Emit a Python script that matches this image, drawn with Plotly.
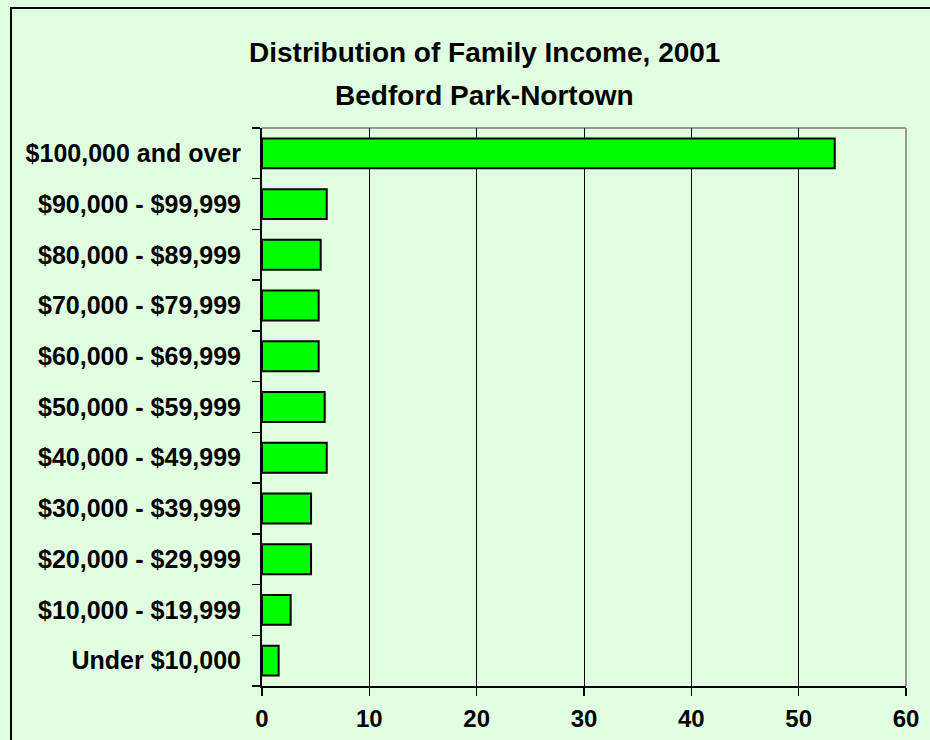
import plotly.graph_objects as go

categories = [
    "Under $10,000",
    "$10,000 - $19,999",
    "$20,000 - $29,999",
    "$30,000 - $39,999",
    "$40,000 - $49,999",
    "$50,000 - $59,999",
    "$60,000 - $69,999",
    "$70,000 - $79,999",
    "$80,000 - $89,999",
    "$90,000 - $99,999",
    "$100,000 and over",
]
values = [1.55, 2.67, 4.57, 4.57, 6.03, 5.84, 5.28, 5.28, 5.47, 6.03, 53.36]
x_ticks = [0, 10, 20, 30, 40, 50, 60]
title_lines = ["Distribution of Family Income, 2001", "Bedford Park-Nortown"]

W, H = 930, 740
ML, MR, MT, MB = 262, 24, 128, 54
PW, PH = W - ML - MR, H - MT - MB

def px_x(x):
    return (x - ML) / PW

def px_y(y):
    return (H - MB - y) / PH

FONT = "Liberation Sans, Arial, sans-serif"
BG = "#E0FFE0"

fig = go.Figure(
    go.Bar(
        x=values,
        y=categories,
        orientation="h",
        marker=dict(color="#00FF00", line=dict(color="black", width=2)),
    )
)

fig.update_layout(
    width=W,
    height=H,
    margin=dict(l=ML, r=MR, t=MT, b=MB, autoexpand=False),
    paper_bgcolor=BG,
    plot_bgcolor=BG,
    bargap=0.41,
    showlegend=False,
    font=dict(family=FONT, color="black"),
)

fig.update_xaxes(
    range=[0, 60],
    tickvals=x_ticks,
    showgrid=True,
    gridcolor="black",
    gridwidth=1,
    showline=True,
    linecolor="black",
    linewidth=2,
    ticks="outside",
    ticklen=8,
    tickwidth=1.5,
    tickcolor="black",
    tickfont=dict(family=FONT, size=24, weight="bold", color="black"),
    ticklabelstandoff=2,
    zeroline=False,
    fixedrange=True,
)

fig.update_yaxes(
    type="category",
    categoryorder="array",
    categoryarray=categories,
    tickson="boundaries",
    showgrid=False,
    showline=True,
    linecolor="black",
    linewidth=2,
    ticks="outside",
    ticklen=8,
    tickwidth=1.5,
    tickcolor="black",
    tickfont=dict(family=FONT, size=25, weight="bold", color="black"),
    ticklabelstandoff=14,
    fixedrange=True,
)

# gray plot-area border (top and right)
fig.add_shape(type="line", xref="paper", yref="paper", x0=0, x1=1, y0=1, y1=1,
              line=dict(color="#999999", width=2), layer="between")
fig.add_shape(type="line", xref="paper", yref="paper", x0=1, x1=1, y0=0, y1=1,
              line=dict(color="#999999", width=2), layer="between")

# outer chart frame
fig.add_shape(type="rect", xref="paper", yref="paper",
              x0=px_x(11), x1=px_x(945), y0=px_y(760), y1=px_y(8),
              line=dict(color="black", width=2), fillcolor="rgba(0,0,0,0)", layer="above")

# title lines
for txt, yc in zip(title_lines, [52, 95]):
    fig.add_annotation(
        text=txt, xref="paper", yref="paper",
        x=px_x(484), y=px_y(yc), xanchor="center", yanchor="middle",
        showarrow=False,
        font=dict(family=FONT, size=28, weight="bold", color="black"),
    )

fig.write_html(
    "out.html",
    config={"displayModeBar": False, "staticPlot": True},
    post_script="document.body.style.margin='0px';document.body.style.overflow='hidden';",
)
